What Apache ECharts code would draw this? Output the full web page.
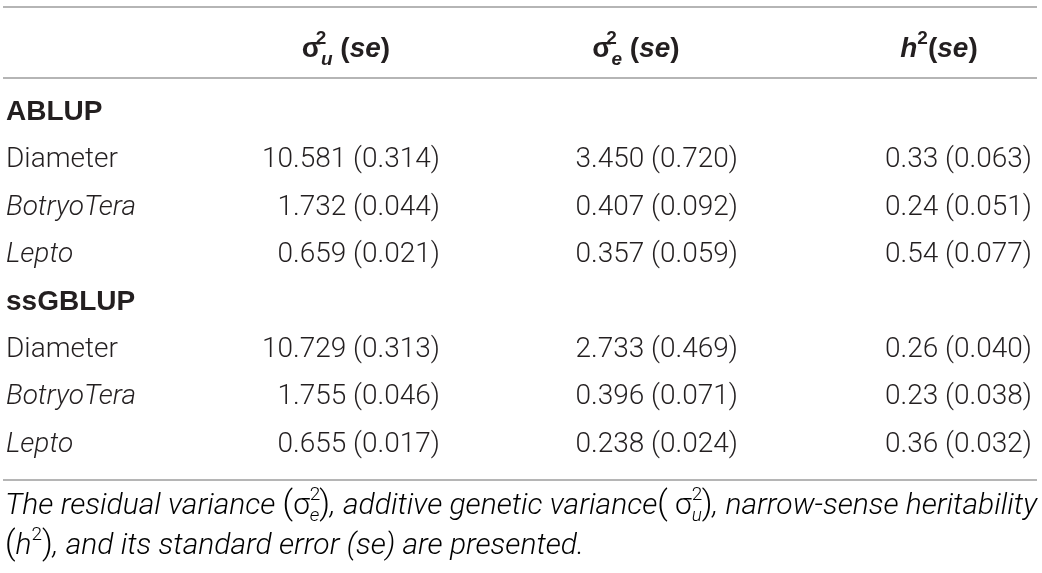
<!DOCTYPE html>
<html>
<head>
<meta charset="utf-8">
<script src="https://cdn.jsdelivr.net/npm/echarts@6/dist/echarts.min.js"></script>
<style>
  html, body { margin: 0; padding: 0; background: #fff; }
  #main { width: 1042px; height: 573px; }
</style>
</head>
<body>
<div id="main"></div>
<script>
// table data
var methods = ["ABLUP", "ssGBLUP"];
var traits = ["Diameter", "BotryoTera", "Lepto"];
var italicTraits = ["BotryoTera", "Lepto"];

var sigmaU = [10.581, 1.732, 0.659, 10.729, 1.755, 0.655];
var sigmaUSe = [0.314, 0.044, 0.021, 0.313, 0.046, 0.017];
var sigmaE = [3.450, 0.407, 0.357, 2.733, 0.396, 0.238];
var sigmaESe = [0.720, 0.092, 0.059, 0.469, 0.071, 0.024];
var h2 = [0.33, 0.24, 0.54, 0.26, 0.23, 0.36];
var h2Se = [0.063, 0.051, 0.077, 0.040, 0.038, 0.032];

var INK = "#231f20";
var FONT = "Roboto, 'Liberation Sans', sans-serif";
var BOLD = "'Liberation Sans', Arial, sans-serif";
var SIZE = 28;

// build rows: method heading then its traits
var rowNames = [];
var rowKinds = [];
var rowData = [];
methods.forEach(function (m, mi) {
  rowNames.push(m);
  rowKinds.push("group");
  rowData.push(-1);
  traits.forEach(function (t, ti) {
    rowNames.push(t);
    rowKinds.push(italicTraits.indexOf(t) >= 0 ? "italic" : "normal");
    rowData.push(mi * traits.length + ti);
  });
});

function fmt(v, se, d) {
  return v.toFixed(d) + " (" + se.toFixed(3) + ")";
}

// cell texts per column
var columns = [[], [], [], []];
rowNames.forEach(function (name, r) {
  columns[0].push({ row: r, text: name, kind: rowKinds[r] });
  var k = rowData[r];
  if (k < 0) return;
  columns[1].push({ row: r, text: fmt(sigmaU[k], sigmaUSe[k], 3), kind: "normal" });
  columns[2].push({ row: r, text: fmt(sigmaE[k], sigmaESe[k], 3), kind: "normal" });
  columns[3].push({ row: r, text: fmt(h2[k], h2Se[k], 2), kind: "normal" });
});

var headers = [
  "",
  "{sg|σ}{sup|2}{sub|u}{b| (}{bi|se}{b|)}",
  "{sg|σ}{sup|2}{sub|e}{b| (}{bi|se}{b|)}",
  "{hi|h}{sup2|2}{b|(}{bi|se}{b|)}"
];

var headRich = {
  sg: { fontFamily: BOLD, fontWeight: "bold", fontSize: SIZE, lineHeight: 40, color: INK },
  sup: { fontFamily: BOLD, fontWeight: "bold", fontSize: 19, lineHeight: 22, width: 0, verticalAlign: "top", color: INK },
  sup2: { fontFamily: BOLD, fontWeight: "bold", fontSize: 19, lineHeight: 22, verticalAlign: "top", color: INK },
  sub: { fontFamily: BOLD, fontWeight: "bold", fontStyle: "italic", fontSize: 19, lineHeight: 20, verticalAlign: "bottom", color: INK },
  b: { fontFamily: BOLD, fontWeight: "bold", fontSize: SIZE, lineHeight: 40, color: INK },
  bi: { fontFamily: BOLD, fontWeight: "bold", fontStyle: "italic", fontSize: SIZE, lineHeight: 40, color: INK },
  hi: { fontFamily: BOLD, fontWeight: "bold", fontStyle: "italic", fontSize: SIZE, lineHeight: 40, color: INK }
};

// column boxes: label column left aligned, value columns right aligned
var gridBoxes = [
  { left: 6, width: 240 },
  { left: 252, right: 602 },
  { left: 534, right: 304 },
  { left: 846, right: 10 }
];
var aligns = ["left", "right", "right", "right"];

var grids = [], xAxes = [], yAxes = [], series = [];
gridBoxes.forEach(function (box, i) {
  grids.push(Object.assign({ top: 89, bottom: 104.5 }, box));
  xAxes.push({
    type: "category",
    gridIndex: i,
    position: "top",
    data: [headers[i]],
    axisLine: { show: false },
    axisTick: { show: false },
    splitLine: { show: false },
    axisLabel: {
      margin: 40,
      verticalAlign: "middle",
      formatter: function (v) { return v; },
      rich: headRich
    }
  });
  yAxes.push({
    type: "category",
    gridIndex: i,
    inverse: true,
    data: rowNames,
    show: false
  });
  var cells = columns[i];
  series.push({
    type: "custom",
    xAxisIndex: i,
    yAxisIndex: i,
    silent: true,
    data: cells.map(function (c) { return [0, c.row]; }),
    renderItem: function (params, api) {
      var cell = cells[params.dataIndex];
      var p = api.coord([api.value(0), api.value(1)]);
      var w = api.size([1, 0])[0];
      var x = aligns[i] === "left" ? p[0] - w / 2 : p[0] + w / 2;
      var group = cell.kind === "group";
      return {
        type: "text",
        x: x,
        y: p[1],
        style: {
          text: cell.text,
          fill: INK,
          fontFamily: group ? BOLD : FONT,
          fontSize: SIZE,
          fontWeight: group ? "bold" : 300,
          fontStyle: cell.kind === "italic" ? "italic" : "normal",
          align: aligns[i],
          verticalAlign: "middle"
        }
      };
    }
  });
});

var noteStyle = { fontFamily: FONT, fontSize: 30, fontStyle: "italic", fontWeight: 300, lineHeight: 40, color: INK };
var noteRich = {
  t: noteStyle,
  p: Object.assign({}, noteStyle, { fontStyle: "normal", fontSize: 33 }),
  s: Object.assign({}, noteStyle, { fontStyle: "normal" }),
  sup: Object.assign({}, noteStyle, { fontStyle: "normal", fontSize: 19, lineHeight: 26, width: 0, verticalAlign: "top" }),
  sup2: Object.assign({}, noteStyle, { fontStyle: "normal", fontSize: 19, lineHeight: 26, verticalAlign: "top" }),
  sub: Object.assign({}, noteStyle, { fontSize: 19, lineHeight: 20, verticalAlign: "bottom" })
};

var chart = echarts.init(document.getElementById("main"));
chart.setOption({
  animation: false,
  grid: grids,
  xAxis: xAxes,
  yAxis: yAxes,
  series: series,
  graphic: [
    { type: "line", shape: { x1: 3, y1: 7, x2: 1037, y2: 7 }, style: { stroke: "#b5b5b5", lineWidth: 2 } },
    { type: "line", shape: { x1: 3, y1: 78, x2: 1037, y2: 78 }, style: { stroke: "#b5b5b5", lineWidth: 2 } },
    { type: "line", shape: { x1: 3, y1: 480, x2: 1037, y2: 480 }, style: { stroke: "#b5b5b5", lineWidth: 2 } },
    {
      type: "text",
      left: 5,
      top: 486,
      style: {
        text: "{t|The residual variance }{p|(}{s|σ}{sup|2}{sub|e}{p|)}{t|, additive genetic variance}{p|(}{s| σ}{sup|2}{sub|u}{p|)}{t|, narrow-sense heritability}\n" +
              "{p|(}{t|h}{sup2|2}{p|)}{t|, and its standard error (se) are presented.}",
        rich: noteRich
      }
    }
  ]
});
</script>
</body>
</html>
